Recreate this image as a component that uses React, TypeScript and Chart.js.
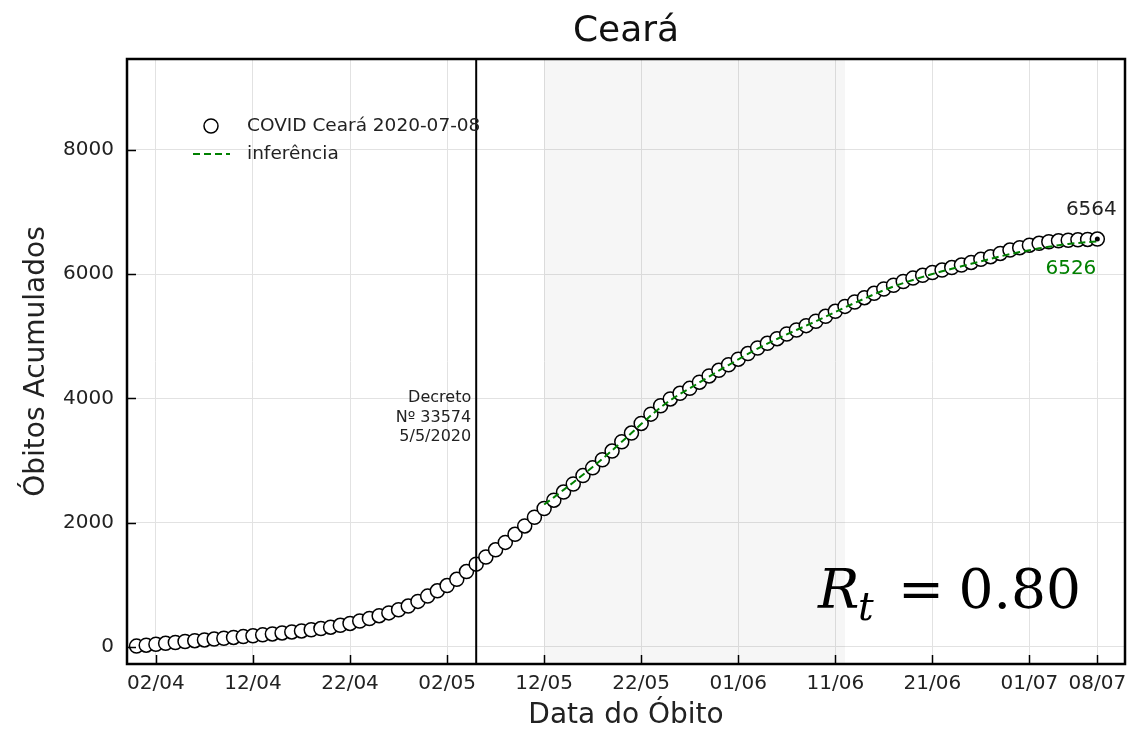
import React, { useEffect, useRef } from 'react';
import { Chart, registerables } from 'chart.js';

Chart.register(...registerables);

// Daily cumulative deaths, day 0 = 31/03/2020 ... day 99 = 08/07/2020
const obitos = [
  10, 25, 40, 55, 68, 84, 98, 110, 123, 137,
  150, 163, 176, 191, 206, 222, 238, 255, 273, 292,
  315, 345, 375, 415, 455, 500, 545, 595, 655, 730,
  815, 900, 985, 1085, 1210, 1330, 1445, 1560, 1680, 1810,
  1945, 2085, 2226, 2360, 2490, 2620, 2755, 2880, 3010, 3150,
  3300, 3440, 3595, 3745, 3880, 3990, 4080, 4160, 4260, 4360,
  4450, 4540, 4630, 4720, 4810, 4885, 4960, 5035, 5100, 5170,
  5240, 5320, 5400, 5480, 5550, 5620, 5690, 5760, 5820, 5880,
  5935, 5980, 6025, 6065, 6105, 6145, 6188, 6237, 6280, 6333,
  6387, 6425, 6465, 6495, 6520, 6535, 6545, 6552, 6558, 6564,
];

// Inference curve, starting at day 42 (12/05)
const inferenciaStart = 42;
const inferencia = [
  2290, 2405, 2525, 2645, 2770, 2895, 3025, 3160, 3300, 3440,
  3585, 3725, 3855, 3970, 4070, 4160, 4255, 4350, 4445, 4535,
  4625, 4715, 4800, 4880, 4955, 5030, 5100, 5170, 5240, 5315,
  5390, 5465, 5535, 5605, 5675, 5740, 5800, 5855, 5905, 5955,
  6000, 6045, 6085, 6125, 6165, 6205, 6245, 6285, 6320, 6355,
  6385, 6415, 6440, 6465, 6485, 6500, 6515, 6526,
];

const tickDays = [2, 12, 22, 32, 42, 52, 62, 72, 82, 92, 99];
const tickLabels = ['02/04', '12/04', '22/04', '02/05', '12/05', '22/05', '01/06', '11/06', '21/06', '01/07', '08/07'];
const yTicks = [0, 2000, 4000, 6000, 8000];

const titleText = 'Ceará';
const decretoDay = 35;
const decretoLines = ['Decreto', 'Nº 33574', '5/5/2020'];
const shadeRange = [42, 73];
const legendLabels = ['COVID Ceará 2020-07-08', 'inferência'];
const rtValue = '0.80';

const GREEN = '#008000';
const SANS = '"DejaVu Sans", sans-serif';
const SERIF = '"DejaVu Serif", serif';

const decor = {
  id: 'decor',
  beforeDatasetsDraw(chart: any) {
    const { ctx, chartArea: a, scales } = chart;
    const x = scales.x;
    ctx.save();
    ctx.fillStyle = 'rgba(0,0,0,0.035)';
    const x0 = x.getPixelForValue(shadeRange[0]);
    const x1 = x.getPixelForValue(shadeRange[1]);
    ctx.fillRect(x0, a.top, x1 - x0, a.bottom - a.top);
    ctx.restore();
  },
  afterDatasetsDraw(chart: any) {
    const { ctx, chartArea: a, scales } = chart;
    const x = scales.x;
    const y = scales.y;
    ctx.save();

    // title, centred over the plot area
    ctx.fillStyle = '#111';
    ctx.font = `36px ${SANS}`;
    ctx.textAlign = 'center';
    ctx.textBaseline = 'middle';
    ctx.fillText(titleText, (a.left + a.right) / 2, 32);

    // decree vertical line
    const dx = x.getPixelForValue(decretoDay);
    ctx.strokeStyle = '#000';
    ctx.lineWidth = 2;
    ctx.beginPath();
    ctx.moveTo(dx, a.top);
    ctx.lineTo(dx, a.bottom);
    ctx.stroke();

    // decree text
    ctx.fillStyle = '#222';
    ctx.font = `16px ${SANS}`;
    ctx.textAlign = 'right';
    ctx.textBaseline = 'middle';
    const ty = y.getPixelForValue(4000);
    decretoLines.forEach((t, i) => ctx.fillText(t, dx - 5, ty + i * 19.5));

    // inward tick marks
    ctx.strokeStyle = '#000';
    ctx.lineWidth = 1.5;
    ctx.beginPath();
    yTicks.forEach((v) => {
      const py = Math.round(y.getPixelForValue(v)) + 0.5;
      ctx.moveTo(a.left, py);
      ctx.lineTo(a.left + 9, py);
    });
    tickDays.forEach((v) => {
      const px = Math.round(x.getPixelForValue(v)) + 0.5;
      ctx.moveTo(px, a.bottom);
      ctx.lineTo(px, a.bottom - 9);
    });
    ctx.stroke();

    // frame
    ctx.lineWidth = 2.5;
    ctx.strokeRect(a.left, a.top, a.right - a.left, a.bottom - a.top);

    // end labels
    const last = obitos.length - 1;
    const px = x.getPixelForValue(last);
    const py = y.getPixelForValue(obitos[last]);
    ctx.font = `20px ${SANS}`;
    ctx.fillStyle = '#222';
    ctx.textAlign = 'center';
    ctx.fillText(String(obitos[last]), px - 6, py - 29);
    const iv = inferencia[inferencia.length - 1];
    const py2 = y.getPixelForValue(iv);
    ctx.fillStyle = GREEN;
    ctx.textAlign = 'right';
    ctx.fillText(String(iv), px - 1, py2 + 27);

    // legend
    ctx.textAlign = 'left';
    ctx.font = `18.5px ${SANS}`;
    const lx = a.left + 84;
    const ly = a.top + 67;
    ctx.beginPath();
    ctx.arc(lx, ly, 7, 0, Math.PI * 2);
    ctx.fillStyle = '#fff';
    ctx.fill();
    ctx.lineWidth = 1.5;
    ctx.strokeStyle = '#000';
    ctx.stroke();
    ctx.fillStyle = '#222';
    ctx.fillText(legendLabels[0], a.left + 120, ly);
    ctx.strokeStyle = GREEN;
    ctx.lineWidth = 2;
    ctx.setLineDash([7, 4]);
    ctx.beginPath();
    ctx.moveTo(a.left + 66, ly + 28);
    ctx.lineTo(a.left + 103, ly + 28);
    ctx.stroke();
    ctx.setLineDash([]);
    ctx.fillText(legendLabels[1], a.left + 120, ly + 28);

    // Rt annotation
    ctx.fillStyle = '#000';
    ctx.textBaseline = 'alphabetic';
    const bx = a.right - 307;
    const by = a.bottom - 56;
    ctx.font = `italic 55px ${SERIF}`;
    ctx.textAlign = 'left';
    ctx.fillText('R', bx, by);
    ctx.font = `italic 39px ${SERIF}`;
    ctx.fillText('t', bx + 40, by + 12);
    ctx.font = `55px ${SERIF}`;
    ctx.textAlign = 'center';
    ctx.fillText('=', bx + 103, by);
    ctx.textAlign = 'right';
    ctx.fillText(rtValue, a.right - 44, by);

    ctx.restore();
  },
};

export default function App() {
  const ref = useRef<HTMLCanvasElement | null>(null);

  useEffect(() => {
    if (!ref.current) return;
    const chart = new Chart(ref.current, {
      type: 'scatter',
      data: {
        datasets: [
          {
            label: 'last',
            data: [{ x: obitos.length - 1, y: obitos[obitos.length - 1] }],
            pointRadius: 2.5,
            pointBackgroundColor: '#000',
            pointBorderWidth: 0,
            showLine: false,
          },
          {
            label: legendLabels[1],
            data: inferencia.map((v, i) => ({ x: inferenciaStart + i, y: v })),
            showLine: true,
            borderColor: GREEN,
            borderWidth: 2,
            borderDash: [7, 4],
            pointRadius: 0,
            tension: 0,
          },
          {
            label: legendLabels[0],
            data: obitos.map((v, i) => ({ x: i, y: v })),
            showLine: false,
            pointRadius: 7,
            pointBorderWidth: 1.5,
            pointBackgroundColor: '#fff',
            pointBorderColor: '#000',
          },
        ],
      },
      options: {
        animation: false,
        responsive: true,
        maintainAspectRatio: false,
        events: [],
        layout: { autoPadding: false, padding: { left: 0, right: 5, top: 59, bottom: 0 } },
        plugins: {
          legend: { display: false },
          tooltip: { enabled: false },
          title: { display: false },
        },
        scales: {
          x: {
            type: 'linear',
            min: -0.98,
            max: 101.85,
            afterBuildTicks: (s: any) => {
              s.ticks = tickDays.map((v) => ({ value: v }));
            },
            afterFit: (s: any) => {
              s.height = 66;
              s.paddingLeft = 0;
              s.paddingRight = 0;
            },
            ticks: {
              autoSkip: false,
              maxRotation: 0,
              minRotation: 0,
              padding: 8,
              color: '#222',
              font: { family: SANS, size: 20 },
              callback: (_v: any, i: number) => tickLabels[i],
            },
            grid: { color: '#e2e2e2', lineWidth: 1, drawTicks: false },
            border: { display: false },
            title: {
              display: true,
              text: 'Data do Óbito',
              color: '#222',
              font: { family: SANS, size: 28 },
              padding: { top: 0, bottom: -3 },
            },
          },
          y: {
            type: 'linear',
            min: -278,
            max: 9463,
            afterBuildTicks: (s: any) => {
              s.ticks = yTicks.map((v) => ({ value: v }));
            },
            afterFit: (s: any) => {
              s.width = 127;
              s.paddingTop = 0;
              s.paddingBottom = 0;
            },
            ticks: {
              padding: 13,
              color: '#222',
              font: { family: SANS, size: 20 },
              callback: (v: any) => String(v),
            },
            grid: { color: '#e2e2e2', lineWidth: 1, drawTicks: false },
            border: { display: false },
            title: {
              display: true,
              text: 'Óbitos Acumulados',
              color: '#222',
              font: { family: SANS, size: 28 },
              padding: { top: 20, bottom: 0 },
            },
          },
        },
      },
      plugins: [decor],
    });
    return () => chart.destroy();
  }, []);

  return (
    <div style={{ position: 'absolute', left: 0, top: 0, width: 1130, height: 730 }}>
      <canvas ref={ref} />
    </div>
  );
}
